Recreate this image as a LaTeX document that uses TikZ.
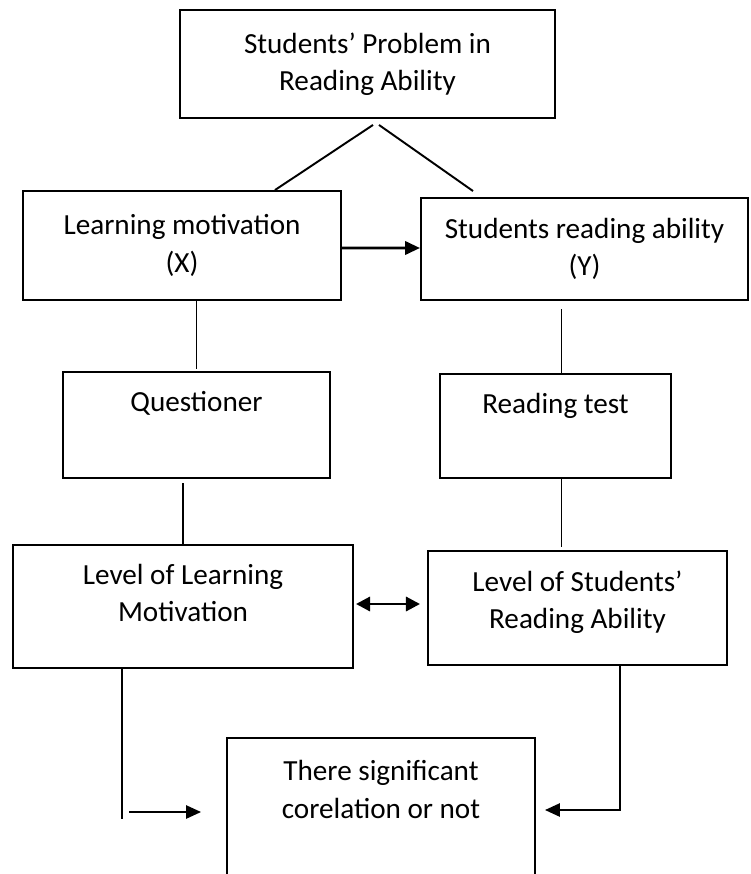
\documentclass[tikz,border=0pt]{standalone}
\usepackage{fontspec}
\setmainfont{Carlito}
\usetikzlibrary{positioning, arrows.meta, calc}

\tikzset{
  box/.style={draw, line width=1.1pt, align=center, inner sep=2pt,
    font=\fontsize{16.6}{21.3}\selectfont},
  boxsize/.style 2 args={minimum width=#1*0.02cm, minimum height=#2*0.02cm},
  link/.style={line width=1.1pt},
  fat/.style={line width=1.7pt},
  tip/.style={-{Triangle[length=8.5pt, width=7.5pt]}},
  twotip/.style={{Triangle[length=8pt, width=8pt]}-{Triangle[length=8pt, width=8pt]}},
}

\begin{document}
\begin{tikzpicture}[x=0.02cm, y=-0.02cm]
 \useasboundingbox (0,0) rectangle (750,874);
 \clip (0,0) rectangle (750,874);
 % boxes at their centres, 1 unit = 1px, y grows downwards
 \node[box, boxsize={375}{108}] (prob) at (367.5,64) {Students’ Problem in\\Reading Ability};
 \node[box, boxsize={318}{109}] (motiv) at (182,245.5) {Learning motivation\\(X)};
 \node[box, boxsize={327}{102}] (abil) at (584.5,249) {Students reading ability\\(Y)};
 \node[box, boxsize={267}{106}] (quest) at (196.5,425) {Questioner\\[5pt]~};
 \node[box, boxsize={231}{104}] (rtest) at (555.5,426) {Reading test\\[5pt]~};
 \node[box, boxsize={340}{123}] (lvlx) at (183,606.5) {Level of Learning\\Motivation\\[-5.5pt]~};
 \node[box, boxsize={299}{114}] (lvly) at (577.5,608) {Level of Students’\\Reading Ability\\[-11.7pt]~};
 \node[box, boxsize={308}{140}] (corr) at (381,808) {There significant\\corelation or not\\~};

 % the two branches
 \draw[link] ($(prob.south)+(5.5,6)$) -- ($(motiv.north)+(93,0)$);
 \draw[link] ($(prob.south)+(11.5,6)$) -- ($(abil.north)+(-111.5,-6)$);
 \draw[fat, tip] ($(motiv.east)+(0,2.5)$) -- ($(abil.west)+(0,-1)$);

 % down the two columns
 \draw[link] (motiv.south -| quest.north) -- ($(quest.north)+(0,-2)$);
 \draw[link] ($(rtest.north)+(6,-64)$) -- ($(rtest.north)+(6,0)$);
 \draw[link] ($(lvlx.north)+(0,-61)$) -- (lvlx.north);
 \draw[link] ($(rtest.south)+(6,0)$) -- ($(rtest.south)+(6,68)$);
 \draw[fat, twotip] ($(lvlx.east)+(2,-2.5)$) -- ($(lvly.west)+(-7,-4)$);

 % into the result box
 \draw[link] ($(lvlx.south)+(-61,0)$) -- ($(lvlx.south)+(-61,150)$);
 \draw[link, tip] ($(corr.west)+(-97,4)$) -- ($(corr.west)+(-25,4)$);
 \draw[link, tip] ($(lvly.south)+(42.5,0)$) |- ($(corr.east)+(9,2)$);
\end{tikzpicture}
\end{document}
